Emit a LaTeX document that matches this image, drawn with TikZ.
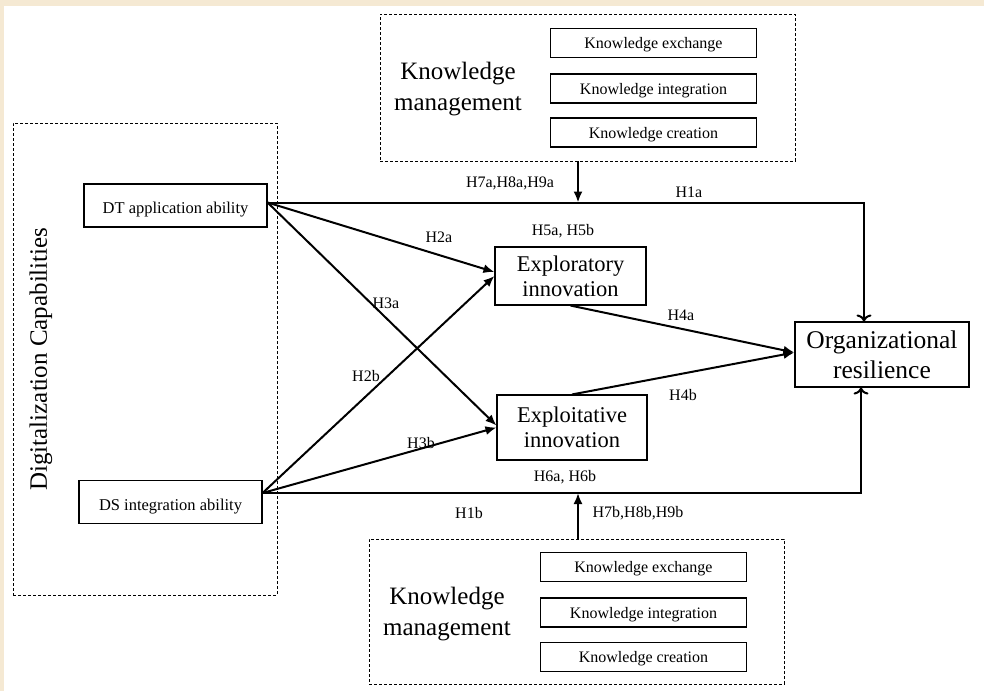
\documentclass[tikz,border=0pt]{standalone}
\usepackage{fontspec}
\setmainfont{Liberation Serif}
\usetikzlibrary{arrows.meta}
\definecolor{paper}{HTML}{F5E9D3}
\tikzset{
  box/.style={draw, line width=1.1pt, inner sep=0pt, align=center},
  kbox/.style={box, minimum width=206pt, minimum height=29pt, text height=15pt, text depth=3.5pt, font=\fontsize{16}{18}\selectfont},
  abox/.style={box, minimum width=183pt, minimum height=43pt, text height=19.5pt, text depth=3.5pt, font=\fontsize{16.5}{19}\selectfont},
  dashbox/.style={draw, dash pattern=on 3pt off 2pt, line width=0.9pt},
  lab/.style={font=\fontsize{16}{18}\selectfont, inner sep=0pt},
  arr/.style={line width=2pt, -{Latex[length=11pt,width=9pt]}},
  arro/.style={line width=2pt, -{To[length=7pt,width=15pt]}},
}
\begin{document}
\begin{tikzpicture}[x=1pt,y=-1pt]
  \useasboundingbox (0,0) rectangle (984,691);
  \fill[paper] (0,0) rectangle (984,6);
  \fill[paper] (0,0) rectangle (4,691);

  % groups
  \node[dashbox, minimum width=264pt, minimum height=472pt] (dc) at (145,359) {};
  \node[rotate=90, font=\fontsize{25}{28}\selectfont] (dctxt) at (41,359) {Digitalization Capabilities};
  \node[dashbox, minimum width=415pt, minimum height=147pt] (kmtop) at (587.5,87.5) {};
  \node[align=center, font=\fontsize{25}{31}\selectfont] (kmtoptxt) at (458,89) {Knowledge\\management};
  \node[dashbox, minimum width=415pt, minimum height=145pt] (kmbot) at (576.5,611.5) {};
  \node[align=center, font=\fontsize{25}{31}\selectfont] (kmbottxt) at (447,614) {Knowledge\\management};

  % knowledge boxes
  \node[kbox] (tex) at (653.5,43) {Knowledge exchange};
  \node[kbox] (tin) at (653.5,88.5) {Knowledge integration};
  \node[kbox] (tcr) at (653.5,132.5) {Knowledge creation};
  \node[kbox] (bex) at (643.5,567) {Knowledge exchange};
  \node[kbox] (bin) at (643.5,612.5) {Knowledge integration};
  \node[kbox] (bcr) at (643.5,657) {Knowledge creation};

  % constructs
  \node[abox] (dt) at (175.5,205.5) {DT application ability};
  \node[abox] (ds) at (170.5,502) {DS integration ability};
  \node[box, minimum width=151pt, minimum height=58pt, font=\fontsize{22.5}{25}\selectfont] (explore) at (570.5,276) {Exploratory\\innovation};
  \node[box, minimum width=150pt, minimum height=65pt, font=\fontsize{22.5}{25}\selectfont] (exploit) at (572,427.5) {Exploitative\\innovation};
  \node[box, minimum width=174pt, minimum height=65pt, font=\fontsize{25.5}{30}\selectfont] (org) at (882,354.5) {Organizational\\resilience};

  \coordinate (dtout) at ([yshift=3pt]dt.east);
  \coordinate (dsout) at ([yshift=9pt]ds.east);

  % paths
  \draw[arro] (dtout) -| ([xshift=-18pt]org.north);
  \draw[arro] (dsout) -| ([xshift=-21pt]org.south);
  \draw[arr] (dtout) -- ([yshift=4pt]explore.west);
  \draw[arr] (dtout) -- ([yshift=2pt]exploit.west);
  \draw[arr] (dsout) -- (explore.west);
  \draw[arr] (dsout) -- (exploit.west);
  \draw[arr] (explore.south) -- ([yshift=2pt]org.west);
  \draw[arr] (exploit.north) -- ([yshift=2pt]org.west);
  \draw[arr] ([xshift=-9.5pt]kmtop.south) -- ([xshift=-9.5pt]kmtop.south |- dtout);
  \draw[arr] ([xshift=1.5pt]kmbot.north) -- ([xshift=1.5pt]kmbot.north |- dsout);

  % labels
  \node[lab] (l7a) at (510,183) {H7a,H8a,H9a};
  \node[lab] (l1a) at (689,192) {H1a};
  \node[lab] (l5) at (563,231) {H5a, H5b};
  \node[lab] (l2a) at (439,237) {H2a};
  \node[lab] (l3a) at (386,303) {H3a};
  \node[lab] (l2b) at (366,376) {H2b};
  \node[lab] (l4a) at (681,315) {H4a};
  \node[lab] (l4b) at (683,395) {H4b};
  \node[lab] (l3b) at (421,443) {H3b};
  \node[lab] (l6) at (565,477) {H6a, H6b};
  \node[lab] (l1b) at (469,513) {H1b};
  \node[lab] (l7b) at (638,513) {H7b,H8b,H9b};
\end{tikzpicture}
\end{document}
